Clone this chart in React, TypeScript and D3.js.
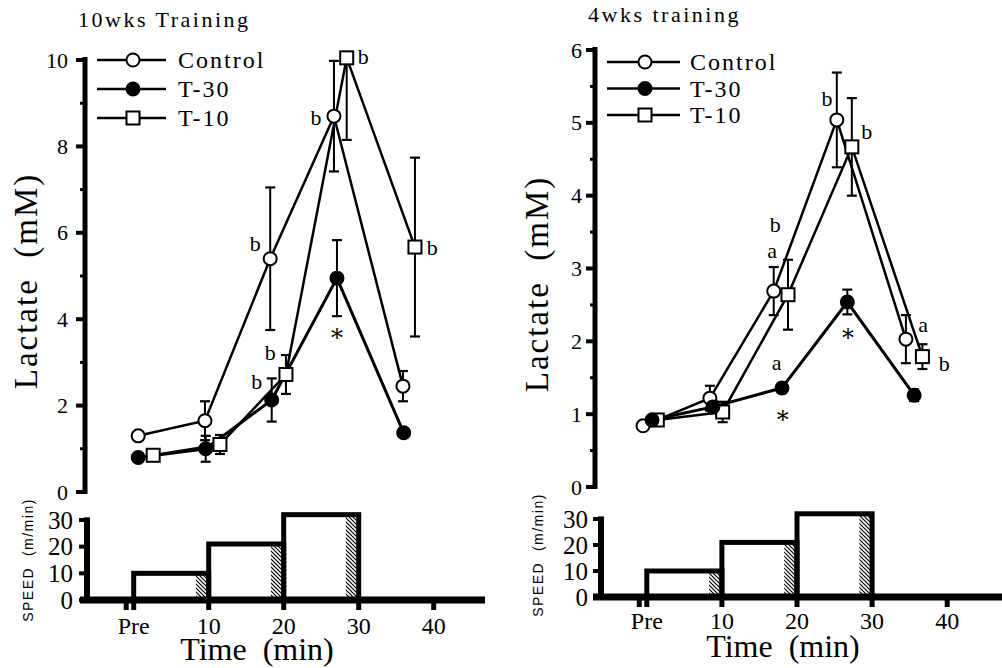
import React from 'react';
import * as d3 from 'd3';

const FONT = '"Liberation Serif", "Times New Roman", Times, serif';
const SANS = '"Liberation Sans", Arial, "DejaVu Sans", sans-serif';
const STAR_FONT = '"DejaVu Serif", "Liberation Serif", serif';

const seriesNames = ['Control', 'T-30', 'T-10'];
const seriesMarkers = ['open', 'filled', 'square'];

// ---------- 10 weeks training ----------
const w10ControlTime = [0.6, 9.5, 18.2, 26.7, 35.9];
const w10ControlMean = [1.3, 1.65, 5.4, 8.7, 2.45];
const w10ControlSem = [0.1, 0.45, 1.65, 1.28, 0.35];
const w10T30Time = [0.6, 9.6, 18.4, 27.1, 36.0];
const w10T30Mean = [0.8, 1.0, 2.13, 4.95, 1.37];
const w10T30Sem = [0.1, 0.3, 0.5, 0.88, 0.1];
const w10T10Time = [2.6, 11.5, 20.3, 28.4, 37.5];
const w10T10Mean = [0.85, 1.1, 2.72, 10.05, 5.67];
const w10T10Sem = [0.08, 0.22, 0.45, 1.9, 2.07];
const w10LactTicks = [0, 2, 4, 6, 8, 10];
const w10LactMinor = [1, 3, 5, 7, 9];
const w10AnnText = ['b', 'b', 'b', 'b', 'b', 'b', '*'];
const w10AnnTime = [16.2, 24.3, 30.6, 39.8, 18.2, 16.4, 27.1];
const w10AnnValue = [5.76, 8.66, 10.07, 5.67, 3.22, 2.55, 3.68];

// ---------- 4 weeks training ----------
const w4ControlTime = [-0.5, 8.4, 16.9, 25.3, 34.5];
const w4ControlMean = [0.84, 1.22, 2.69, 5.04, 2.03];
const w4ControlSem = [0.05, 0.17, 0.33, 0.65, 0.33];
const w4T30Time = [0.7, 8.8, 18.0, 26.7, 35.6];
const w4T30Mean = [0.92, 1.1, 1.36, 2.54, 1.26];
const w4T30Sem = [0.05, 0.08, 0.07, 0.17, 0.08];
const w4T10Time = [1.4, 10.1, 18.8, 27.3, 36.7];
const w4T10Mean = [0.92, 1.03, 2.64, 4.67, 1.79];
const w4T10Sem = [0.06, 0.14, 0.48, 0.67, 0.17];
const w4LactTicks = [0, 1, 2, 3, 4, 5, 6];
const w4LactMinor = [0.5, 1.5, 2.5, 3.5, 4.5, 5.5];
const w4AnnText = ['b', 'a', 'b', 'b', 'a', '*', '*', 'a', 'b'];
const w4AnnTime = [17.1, 16.7, 24.0, 29.3, 17.3, 18.1, 26.8, 36.8, 39.6];
const w4AnnValue = [3.6, 3.21, 5.34, 4.88, 1.68, 0.99, 2.12, 2.2, 1.7];

// ---------- speed protocol ----------
const stageStart = [0, 10, 20];
const stageEnd = [10, 20, 30];
const stageSpeed = [10, 21, 32];
const sampleStart = [8.3, 18.3, 28.3];
const speedTicks = [0, 10, 20, 30];
const timeTickValues = [-1, 0, 10, 20, 30, 40];
const timeLabelValues = [0, 10, 20, 30, 40];
const timeLabels = ['Pre', '10', '20', '30', '40'];

type Layout = {
  xRange: [number, number];
  lactRange: [number, number];
  speedRange: [number, number];
  lactAxisX: number;
  speedAxisX: number;
  xAxisStart: number;
  xAxisEnd: number;
  titleX: number;
  titleY: number;
  lactLabelX: number;
  lactLabelY: number;
  speedLabelX: number;
  speedLabelY: number;
  timeLabelX: number;
  timeLabelY: number;
  tickLabelY: number;
  lactTickLabelX: number;
  speedTickLabelX: number;
  legendX1: number;
  legendX2: number;
  legendMarkerX: number;
  legendTextX: number;
  legendY0: number;
  legendDY: number;
};

function Marker({ kind, x, y }: { kind: string; x: number; y: number }) {
  if (kind === 'square')
    return <rect x={x - 6.5} y={y - 6.5} width={13} height={13} fill="#fff" stroke="#000" strokeWidth={2} />;
  return <circle cx={x} cy={y} r={6.5} fill={kind === 'filled' ? '#000' : '#fff'} stroke="#000" strokeWidth={2} />;
}

function annBaseline(t: string, fs: number) {
  if (t === '*') return fs * 0.55;
  if (t === 'a') return fs * 0.23;
  return fs * 0.34;
}

function Panel(props: {
  id: string;
  title: string;
  lactMax: number;
  lactTicks: number[];
  lactMinor: number[];
  times: number[][];
  means: number[][];
  sems: number[][];
  annText: string[];
  annTime: number[];
  annValue: number[];
  L: Layout;
}) {
  const { id, title, lactMax, lactTicks, lactMinor, times, means, sems, annText, annTime, annValue, L } = props;
  const x = d3.scaleLinear().domain([0, 40]).range(L.xRange);
  const y = d3.scaleLinear().domain([0, lactMax]).range(L.lactRange);
  const ys = d3.scaleLinear().domain([0, 30]).range(L.speedRange);
  const line = d3
    .line<[number, number]>()
    .x((d) => x(d[0]))
    .y((d) => y(d[1]));
  const order = [0, 2, 1];
  return (
    <g>
      <defs>
        <pattern id={`hatch-${id}`} patternUnits="userSpaceOnUse" width={4} height={4}>
          <rect width={4} height={4} fill="#fff" />
          <path d="M-1,-1 L5,5 M-1,3 L1,5 M3,-1 L5,1" stroke="#000" strokeWidth={1.2} />
        </pattern>
      </defs>
      {/* title */}
      <text x={L.titleX} y={L.titleY} fontFamily={FONT} fontSize={22} letterSpacing={2.5} fill="#000">
        {title}
      </text>
      {/* lactate axis */}
      <line x1={L.lactAxisX} x2={L.lactAxisX} y1={y(0) + 2} y2={y(lactMax) - 3} stroke="#000" strokeWidth={5} />
      {lactTicks.map((t) => (
        <g key={`lt${t}`}>
          <line x1={L.lactAxisX - 9} x2={L.lactAxisX} y1={y(t)} y2={y(t)} stroke="#000" strokeWidth={4} />
          <text x={L.lactTickLabelX} y={y(t) + 7.5} textAnchor="end" fontFamily={FONT} fontSize={22} fill="#000">
            {t}
          </text>
        </g>
      ))}
      {lactMinor.map((t) => (
        <line key={`lm${t}`} x1={L.lactAxisX - 5} x2={L.lactAxisX} y1={y(t)} y2={y(t)} stroke="#000" strokeWidth={3} />
      ))}
      <text
        transform={`translate(${L.lactLabelX},${L.lactLabelY}) rotate(-90)`}
        textAnchor="middle"
        fontFamily={FONT}
        fontSize={33}
        letterSpacing={2}
        fill="#000"
        style={{ whiteSpace: 'pre' }}
      >
        {'Lactate  (mM)'}
      </text>
      {/* legend */}
      {seriesNames.map((n, i) => {
        const ly = L.legendY0 + i * L.legendDY;
        return (
          <g key={`lg${n}`}>
            <line x1={L.legendX1} x2={L.legendX2} y1={ly} y2={ly} stroke="#000" strokeWidth={2.5} />
            <Marker kind={seriesMarkers[i]} x={L.legendMarkerX} y={ly} />
            <text x={L.legendTextX} y={ly + 8} fontFamily={FONT} fontSize={24} letterSpacing={2} fill="#000">
              {n}
            </text>
          </g>
        );
      })}
      {/* lines */}
      {order.map((s) => (
        <path
          key={`ln${s}`}
          d={line(times[s].map((t, i) => [t, means[s][i]]) as [number, number][]) || ''}
          fill="none"
          stroke="#000"
          strokeWidth={s === 1 ? 3 : 2.5}
        />
      ))}
      {/* error bars */}
      {order.map((s) =>
        times[s].map((t, i) => {
          const cx = x(t);
          const hiV = means[s][i] + sems[s][i];
          const clipped = hiV > lactMax;
          const hi = y(Math.min(hiV, lactMax));
          const lo = y(means[s][i] - sems[s][i]);
          return (
            <g key={`eb${s}-${i}`}>
              <line x1={cx} x2={cx} y1={hi} y2={lo} stroke="#000" strokeWidth={2} />
              {!clipped && <line x1={cx - 5} x2={cx + 5} y1={hi} y2={hi} stroke="#000" strokeWidth={2.2} />}
              <line x1={cx - 5} x2={cx + 5} y1={lo} y2={lo} stroke="#000" strokeWidth={2.2} />
            </g>
          );
        })
      )}
      {/* markers */}
      {order.map((s) =>
        times[s].map((t, i) => <Marker key={`mk${s}-${i}`} kind={seriesMarkers[s]} x={x(t)} y={y(means[s][i])} />)
      )}
      {/* annotations */}
      {annText.map((a, i) => {
        const fs = a === '*' ? 24 : 22;
        return (
          <text
            key={`an${i}`}
            x={x(annTime[i])}
            y={y(annValue[i]) + annBaseline(a, fs)}
            textAnchor="middle"
            fontFamily={a === '*' ? STAR_FONT : FONT}
            fontSize={fs}
            fill="#000"
          >
            {a}
          </text>
        );
      })}
      {/* speed panel */}
      {stageStart.map((s0, i) => (
        <g key={`st${i}`}>
          <rect
            x={x(sampleStart[i])}
            y={ys(stageSpeed[i])}
            width={x(stageEnd[i]) - x(sampleStart[i])}
            height={ys(0) - ys(stageSpeed[i])}
            fill={`url(#hatch-${id})`}
          />
          <rect
            x={x(s0)}
            y={ys(stageSpeed[i])}
            width={x(stageEnd[i]) - x(s0)}
            height={ys(0) - ys(stageSpeed[i])}
            fill="none"
            stroke="#000"
            strokeWidth={5}
          />
        </g>
      ))}
      <line x1={L.speedAxisX} x2={L.speedAxisX} y1={ys(0)} y2={ys(31)} stroke="#000" strokeWidth={6} />
      {speedTicks.map((t) => (
        <g key={`sp${t}`}>
          <line x1={L.speedAxisX - 8} x2={L.speedAxisX} y1={ys(t)} y2={ys(t)} stroke="#000" strokeWidth={4} />
          <text x={L.speedTickLabelX} y={ys(t) + 8.5} textAnchor="end" fontFamily={FONT} fontSize={25} fill="#000">
            {t}
          </text>
        </g>
      ))}
      <line x1={L.xAxisStart} x2={L.xAxisEnd} y1={ys(0)} y2={ys(0)} stroke="#000" strokeWidth={7} />
      {timeTickValues.map((t) => (
        <line key={`xt${t}`} x1={x(t)} x2={x(t)} y1={ys(0)} y2={ys(0) + 10} stroke="#000" strokeWidth={5} />
      ))}
      {timeLabels.map((lab, i) => (
        <text
          key={`xl${lab}`}
          x={x(timeLabelValues[i])}
          y={L.tickLabelY}
          textAnchor="middle"
          fontFamily={FONT}
          fontSize={24}
          fill="#000"
        >
          {lab}
        </text>
      ))}
      <text
        transform={`translate(${L.speedLabelX},${L.speedLabelY}) rotate(-90)`}
        textAnchor="middle"
        fontFamily={SANS}
        fontSize={14}
        letterSpacing={1.5}
        fill="#000"
        style={{ whiteSpace: 'pre' }}
      >
        {'SPEED  (m/min)'}
      </text>
      <text
        x={L.timeLabelX}
        y={L.timeLabelY}
        textAnchor="middle"
        fontFamily={FONT}
        fontSize={32}
        fill="#000"
        style={{ whiteSpace: 'pre' }}
      >
        {'Time  (min)'}
      </text>
    </g>
  );
}

const leftLayout: Layout = {
  xRange: [133.7, 433.7],
  lactRange: [492, 60],
  speedRange: [600, 520],
  lactAxisX: 85,
  speedAxisX: 87,
  xAxisStart: 80,
  xAxisEnd: 485,
  titleX: 78,
  titleY: 27,
  lactLabelX: 37,
  lactLabelY: 281,
  speedLabelX: 33,
  speedLabelY: 560,
  timeLabelX: 257,
  timeLabelY: 660,
  tickLabelY: 634,
  lactTickLabelX: 68,
  speedTickLabelX: 73,
  legendX1: 97,
  legendX2: 166,
  legendMarkerX: 133,
  legendTextX: 178,
  legendY0: 60,
  legendDY: 29,
};

const rightLayout: Layout = {
  xRange: [646.8, 947.2],
  lactRange: [487, 50],
  speedRange: [597, 519],
  lactAxisX: 595,
  speedAxisX: 601,
  xAxisStart: 593,
  xAxisEnd: 1002,
  titleX: 588,
  titleY: 22,
  lactLabelX: 548,
  lactLabelY: 284,
  speedLabelX: 543,
  speedLabelY: 555,
  timeLabelX: 783,
  timeLabelY: 657,
  tickLabelY: 629,
  lactTickLabelX: 582,
  speedTickLabelX: 588,
  legendX1: 607,
  legendX2: 680,
  legendMarkerX: 645,
  legendTextX: 690,
  legendY0: 62,
  legendDY: 26.5,
};

export default function App() {
  return (
    <svg
      width={1002}
      height={668}
      viewBox="0 0 1002 668"
      style={{ position: 'absolute', left: 0, top: 0, background: '#fff' }}
    >
      <rect width={1002} height={668} fill="#fff" />
      <Panel
        id="w10"
        title="10wks Training"
        lactMax={10}
        lactTicks={w10LactTicks}
        lactMinor={w10LactMinor}
        times={[w10ControlTime, w10T30Time, w10T10Time]}
        means={[w10ControlMean, w10T30Mean, w10T10Mean]}
        sems={[w10ControlSem, w10T30Sem, w10T10Sem]}
        annText={w10AnnText}
        annTime={w10AnnTime}
        annValue={w10AnnValue}
        L={leftLayout}
      />
      <Panel
        id="w4"
        title="4wks training"
        lactMax={6}
        lactTicks={w4LactTicks}
        lactMinor={w4LactMinor}
        times={[w4ControlTime, w4T30Time, w4T10Time]}
        means={[w4ControlMean, w4T30Mean, w4T10Mean]}
        sems={[w4ControlSem, w4T30Sem, w4T10Sem]}
        annText={w4AnnText}
        annTime={w4AnnTime}
        annValue={w4AnnValue}
        L={rightLayout}
      />
    </svg>
  );
}
